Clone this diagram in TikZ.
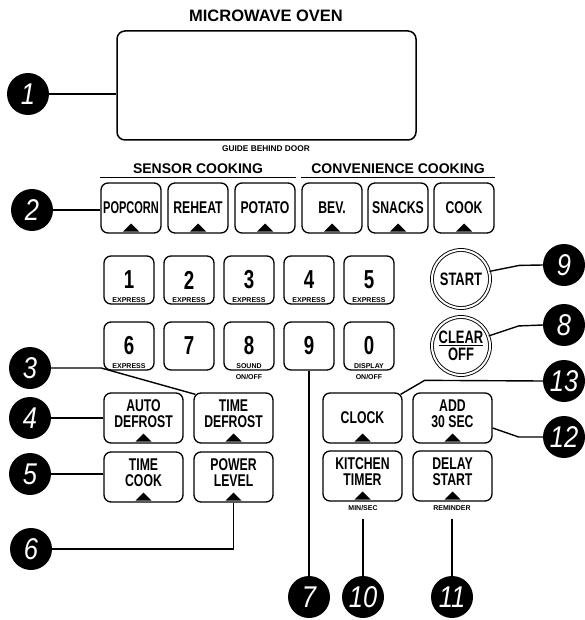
\documentclass[tikz,border=0pt]{standalone}
\usepackage{fontspec}
\setmainfont{Liberation Sans}
\newfontfamily\keyfont[FakeStretch=0.72]{Liberation Sans}
\newfontfamily\callfont[FakeStretch=0.85]{Liberation Sans}
\usetikzlibrary{positioning}

\tikzset{
  keybox/.style={draw,line width=1.3pt,rounded corners=7pt,
    minimum width=79pt,minimum height=50pt,inner sep=0pt,align=center,
    font=\keyfont\bfseries\fontsize{17}{16.5}\selectfont,
    path picture={\fill[sharp corners]
      ([xshift=-8pt,yshift=1.5pt]path picture bounding box.south) --
      ([xshift=8pt,yshift=1.5pt]path picture bounding box.south) --
      ([yshift=9.5pt]path picture bounding box.south) -- cycle;}},
  senskey/.style={keybox,minimum width=60pt},
  twoline/.style={text depth=9pt},
  numkey/.style={draw,line width=1.3pt,rounded corners=7pt,
    minimum width=50pt,minimum height=48pt,inner sep=0pt,
    font=\keyfont\bfseries\fontsize{26}{26}\selectfont},
  sublbl/.style={font=\bfseries\fontsize{7}{7}\selectfont,inner sep=0pt},
  roundkey/.style={circle,draw,line width=0.9pt,double,double distance=2pt,
    minimum size=58pt,inner sep=0pt,align=center,
    font=\keyfont\bfseries\fontsize{18}{17}\selectfont},
  callout/.style={circle,fill=black,minimum size=42pt,inner sep=0pt,
    text=white,font=\callfont\itshape\fontsize{30}{30}\selectfont},
  lead/.style={line width=1.4pt},
}

\begin{document}
\begin{tikzpicture}[x=1pt,y=-1pt]
  \useasboundingbox (0,0) rectangle (585,620);

  \node[font=\bfseries\fontsize{16.5}{16.5}\selectfont] (title) at (266,16) {MICROWAVE OVEN};
  \node[draw,line width=1.5pt,rounded corners=8pt,minimum width=299pt,
        minimum height=109pt] (disp) at (266.5,85.5) {};
  \node[font=\bfseries\fontsize{8.3}{8.3}\selectfont] (guide) at (266,149) {GUIDE BEHIND DOOR};

  \node[senskey] (pop) at (131,208) {\scalebox{0.9}[1]{POPCORN}};
  \node[senskey] (reh) at (198,208) {REHEAT};
  \node[senskey] (pot) at (265,208) {POTATO};
  \node[senskey] (bev) at (332,208) {BEV.};
  \node[senskey] (snk) at (398,208) {SNACKS};
  \node[senskey] (cook) at (464,208) {COOK};
  \node[font=\bfseries\fontsize{14}{14}\selectfont] (sens) at (198,169) {SENSOR COOKING};
  \node[font=\bfseries\fontsize{14}{14}\selectfont] (conv) at (398,169) {CONVENIENCE COOKING};
  \draw[line width=1.2pt] ([yshift=5pt]pop.north west) -- ([yshift=5pt]pot.north east);
  \draw[line width=1.2pt] ([yshift=5pt]bev.north west) -- ([yshift=5pt]cook.north east);

  \node[numkey] (k1) at (129,280) {1};
  \node[numkey] (k2) at (189,280) {2};
  \node[numkey] (k3) at (249,280) {3};
  \node[numkey] (k4) at (309,280) {4};
  \node[numkey] (k5) at (369,280) {5};
  \node[numkey] (k6) at (129,346) {6};
  \node[numkey] (k7) at (189,346) {7};
  \node[numkey] (k8) at (249,346) {8};
  \node[numkey] (k9) at (309,346) {9};
  \node[numkey] (k0) at (369,346) {0};
  \node[sublbl,anchor=south] (x1) at ([yshift=1.5pt]k1.south) {EXPRESS};
  \node[sublbl,anchor=south] (x2) at ([yshift=1.5pt]k2.south) {EXPRESS};
  \node[sublbl,anchor=south] (x3) at ([yshift=1.5pt]k3.south) {EXPRESS};
  \node[sublbl,anchor=south] (x4) at ([yshift=1.5pt]k4.south) {EXPRESS};
  \node[sublbl,anchor=south] (x5) at ([yshift=1.5pt]k5.south) {EXPRESS};
  \node[sublbl,anchor=south] (x6) at ([yshift=1.5pt]k6.south) {EXPRESS};
  \node[sublbl,anchor=south] (snd) at ([yshift=1.5pt]k8.south) {SOUND};
  \node[sublbl,anchor=south] (dsp) at ([yshift=1.5pt]k0.south) {DISPLAY};
  \node[sublbl,anchor=north] (onoff8) at ([yshift=-4pt]k8.south) {ON/OFF};
  \node[sublbl,anchor=north] (onoff0) at ([yshift=-4pt]k0.south) {ON/OFF};

  \node[roundkey] (start) at (461,279) {START};
  \node[roundkey] (clear) at (461,346) {\underline{CLEAR}\\OFF};

  \node[keybox,twoline] (adef) at (143.5,418) {AUTO\\DEFROST};
  \node[keybox,twoline] (tdef) at (233.5,418) {TIME\\DEFROST};
  \node[keybox,twoline] (tcook) at (143.5,477) {TIME\\COOK};
  \node[keybox,twoline] (plev) at (233.5,477) {POWER\\LEVEL};
  \node[keybox] (clock) at (362.5,418) {CLOCK};
  \node[keybox,twoline] (add) at (452.5,418) {ADD\\30 SEC};
  \node[keybox,twoline] (ktimer) at (362.5,476) {KITCHEN\\TIMER};
  \node[keybox,twoline] (delay) at (452.5,476) {DELAY\\START};
  \node[sublbl] (minsec) at (363,508) {MIN/SEC};
  \node[sublbl] (remind) at (452,508) {REMINDER};

  \node[callout] (c1) at (28,94) {1};
  \node[callout] (c2) at (32,210) {2};
  \node[callout] (c3) at (30,368) {3};
  \node[callout] (c4) at (30,418) {4};
  \node[callout] (c5) at (30,474) {5};
  \node[callout] (c6) at (31,549) {6};
  \node[callout] (c7) at (309,597) {7};
  \node[callout] (c10) at (363,597) {10};
  \node[callout] (c11) at (452,597) {11};
  \node[callout] (c9) at (564,265) {9};
  \node[callout] (c8) at (564,325) {8};
  \node[callout] (c13) at (564,381) {13};
  \node[callout] (c12) at (564,437) {12};

  \draw[lead] (c1.east) -- (c1.east -| disp.west);
  \draw[lead] (c2.east) -- (c2.east -| pop.west);
  \draw[lead] (c3.east) -- ++(50,0) -- ([xshift=2pt,yshift=-2pt]tdef.north west);
  \draw[lead] (c4.east) -- (c4.east -| adef.west);
  \draw[lead] (c5.east) -- (c5.east -| tcook.west);
  \draw[lead] (c6.east) -| (plev.south);
  \draw[lead] (k9.south) -- (c7.north);
  \draw[lead] ([yshift=-8pt]minsec.south) -- (c10.north);
  \draw[lead] ([yshift=-8pt]remind.south) -- (c11.north);
  \draw[lead] (start.15) -- ++(30,-6) -- (c9.west);
  \draw[lead] (clear.20) -- ++(30,-10) -- (c8.west);
  \draw[lead] ([xshift=-2pt,yshift=-2pt]clock.north east) -- ++(24,-14) -- (c13.west);
  \draw[lead] ([yshift=-10pt]add.east) -- ++(26,9) -- (c12.west);
\end{tikzpicture}
\end{document}
